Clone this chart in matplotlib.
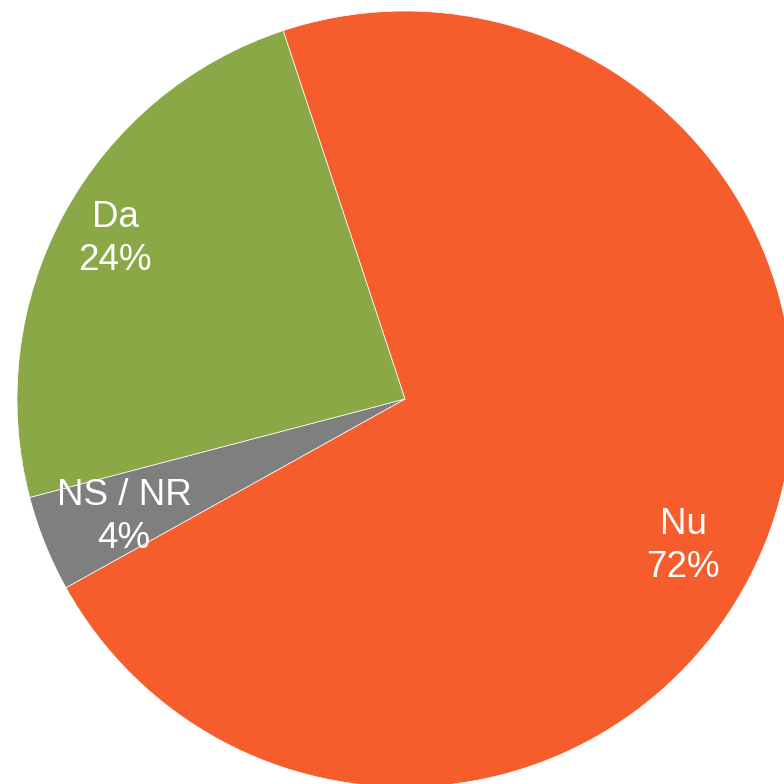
import matplotlib
matplotlib.use("Agg")
import matplotlib.pyplot as plt

# slice data (clockwise from the Nu/Da boundary)
labels = ["Nu", "NS / NR", "Da"]
shares = [72, 4, 24]
colors = ["#F55D2C", "#7F7F7F", "#8AA846"]

# label anchor points in pixel coords (x, y from top)
label_pos = [(683, 546), (124, 517), (115, 239)]

W = H = 784
fig = plt.figure(figsize=(W / 100, H / 100), dpi=100)
ax = fig.add_axes([0, 0, 1, 1])

cx, cy, r = 405, H - 399, 388
ax.pie(
    shares,
    colors=colors,
    startangle=108.3,
    counterclock=False,
    center=(cx, cy),
    radius=r,
    frame=True,
    wedgeprops=dict(edgecolor="white", linewidth=0.5),
)
ax.set_xlim(0, W)
ax.set_ylim(0, H)
ax.set_aspect("equal")
ax.axis("off")

for name, val, (x, y) in zip(labels, shares, label_pos):
    ax.text(x, H - y, f"{name}\n{val}%", color="white", fontsize=26.5,
            family="Liberation Sans", ha="center", va="center",
            linespacing=1.3)

fig.savefig("out.png", dpi=100)
